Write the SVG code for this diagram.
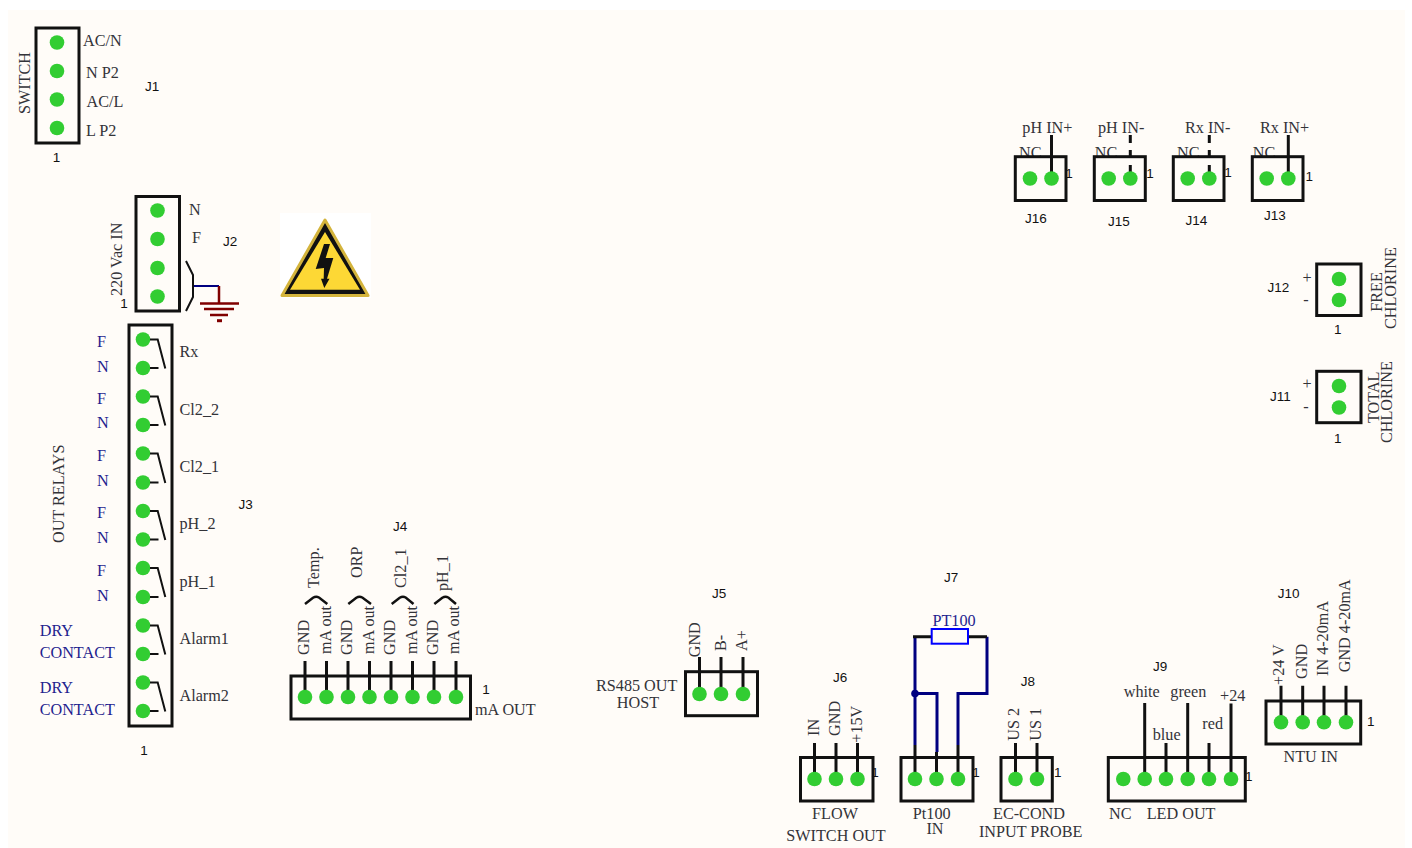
<svg xmlns="http://www.w3.org/2000/svg" width="1412" height="848" viewBox="0 0 1412 848">
<style>
text{font-family:"Liberation Serif","Times New Roman",serif;font-size:16.200px;fill:#333338}
.j{font-family:"Liberation Sans",Arial,sans-serif;font-size:13.500px;fill:#111}
.b{fill:#1f1f8f}
.m{text-anchor:middle}
.box{fill:none;stroke:#111;stroke-width:3}
.pin{fill:#32cd32}
.w{fill:none;stroke:#111;stroke-width:3}
.t{stroke-width:2}
.d{stroke-dasharray:8 7}
.n{fill:none;stroke:#000080;stroke-width:3}
</style>
<rect width="1412" height="848" fill="#fff"/>
<rect x="8" y="10" width="1397" height="838" fill="#fffcf8"/>

<g id="connectors">
<path class="n" d="M915 745V636.700M915 693.500H937V752M958 745V693.500H987V636.700"/>
<circle cx="915" cy="693.500" r="3.800" fill="#000080"/>
<path class="w" d="M913 636.700H932M968 636.700H987"/>
<path d="M193 286H219" fill="none" stroke="#000080" stroke-width="2"/>
<path d="M219 286V303.500M200 303.500H239M204 309H234M210 315H228" fill="none" stroke="#800000" stroke-width="2.500"/>
<path d="M217 320.700H222" fill="none" stroke="#800000" stroke-width="3"/>
<path class="w t" d="M186 261L193 275V297L186 311"/>
</g>

<g id="J1">
<rect class="box" x="36" y="28" width="43" height="115"/>
<circle class="pin" cx="57" cy="42.500" r="7.300"/><circle class="pin" cx="57" cy="71" r="7.300"/><circle class="pin" cx="57" cy="99.500" r="7.300"/><circle class="pin" cx="57" cy="128" r="7.300"/>
<text x="83" y="46">AC/N</text><text x="86" y="78">N P2</text><text x="86.500" y="107">AC/L</text><text x="86" y="136">L P2</text>
<text transform="translate(29.500 114) rotate(-90)">SWITCH</text>
<text class="j m" x="56.500" y="162">1</text><text class="j" x="145" y="91">J1</text>
</g>

<g id="J2">
<rect class="box" x="136" y="196.500" width="43.500" height="114.500"/>
<circle class="pin" cx="157.500" cy="210.500" r="7.300"/><circle class="pin" cx="157.500" cy="239" r="7.300"/><circle class="pin" cx="157.500" cy="268" r="7.300"/><circle class="pin" cx="157.500" cy="296.500" r="7.300"/>
<text x="189" y="214.500">N</text><text x="192" y="243">F</text>
<text transform="translate(122 296) rotate(-90)">220 Vac IN</text>
<text class="j m" x="124" y="308">1</text><text class="j" x="223" y="246">J2</text>
</g>

<g id="warning">
<rect x="280" y="213" width="91" height="85" fill="#fff"/>
<path d="M325 220L368 295.500H282Z" fill="#111" stroke="#d4b43c" stroke-width="3" stroke-linejoin="round"/>
<path d="M325 232L360 289.700H290Z" fill="#fdd835"/>
<path d="M324 244H330L325.700 258H333.300L327 278.700H329.500L324.300 288L321 278.700H323.700L324 268L315.700 269Z" fill="#111"/>
</g>

<g id="J3">
<rect class="box" x="129" y="325" width="43" height="401"/>
<g class="pin">
<circle cx="143" cy="339.500" r="7.300"/><circle cx="143" cy="368" r="7.300"/><circle cx="143" cy="396.500" r="7.300"/><circle cx="143" cy="425" r="7.300"/><circle cx="143" cy="453.500" r="7.300"/><circle cx="143" cy="482.500" r="7.300"/><circle cx="143" cy="511" r="7.300"/><circle cx="143" cy="539.500" r="7.300"/><circle cx="143" cy="568" r="7.300"/><circle cx="143" cy="597" r="7.300"/><circle cx="143" cy="625.500" r="7.300"/><circle cx="143" cy="654" r="7.300"/><circle cx="143" cy="682.500" r="7.300"/><circle cx="143" cy="711" r="7.300"/>
</g>
<path class="w t" d="M150 339.500H157.700L165.300 368.500M150 368H158.500M150 396.500H157.700L165.300 425.500M150 425H158.500M150 453.500H157.700L165.300 483M150 482.500H158.500M150 511H157.700L165.300 540M150 539.500H158.500M150 568H157.700L165.300 597M150 597H158.500M150 625.500H157.700L165.300 654.500M150 654H158.500M150 682.500H157.700L165.300 711.500M150 711H158.500"/>
<text x="179.500" y="357">Rx</text><text x="179.500" y="415">Cl2_2</text><text x="179.500" y="471.700">Cl2_1</text><text x="179.500" y="529">pH_2</text><text x="179.500" y="586.700">pH_1</text><text x="179.500" y="644">Alarm1</text><text x="179.500" y="701">Alarm2</text>
<text class="b" x="97" y="347">F</text><text class="b" x="97" y="371.700">N</text><text class="b" x="97" y="404">F</text><text class="b" x="97" y="428">N</text><text class="b" x="97" y="461">F</text><text class="b" x="97" y="485.700">N</text><text class="b" x="97" y="518">F</text><text class="b" x="97" y="543">N</text><text class="b" x="97" y="575.700">F</text><text class="b" x="97" y="600.700">N</text>
<text class="b" x="39.700" y="636">DRY</text><text class="b" x="39.700" y="657.700">CONTACT</text><text class="b" x="39.700" y="693.300">DRY</text><text class="b" x="39.700" y="715">CONTACT</text>
<text transform="translate(64.300 543) rotate(-90)">OUT RELAYS</text>
<text class="j" x="238.500" y="509">J3</text><text class="j m" x="144" y="755">1</text>
</g>

<g id="J4">
<rect class="box" x="291" y="676" width="179.500" height="43"/>
<path class="w" d="M305 661V697M326.500 661V697M348 661V697M369.500 661V697M391 661V697M412.500 661V697M434 661V697M456 661V697"/>
<g class="pin"><circle cx="305" cy="697" r="7.300"/><circle cx="326.500" cy="697" r="7.300"/><circle cx="348" cy="697" r="7.300"/><circle cx="369.500" cy="697" r="7.300"/><circle cx="391" cy="697" r="7.300"/><circle cx="412.500" cy="697" r="7.300"/><circle cx="434" cy="697" r="7.300"/><circle cx="456" cy="697" r="7.300"/></g>
<path class="w" stroke-width="2.500" style="stroke-width:2.500" d="M305 604L313 597.800Q316 596 319 597.500L327.300 604M348.300 604L356.300 597.800Q359.300 596 362.300 597.500L371 604M391.700 604L399.700 597.800Q402.700 596 405.700 597.500L413.500 604M434.300 604L442.300 597.800Q445.300 596 448.300 597.500L456 604"/>
<text transform="translate(309.300 655) rotate(-90)">GND</text><text transform="translate(352.300 655) rotate(-90)">GND</text><text transform="translate(395 655) rotate(-90)">GND</text><text transform="translate(438.300 655) rotate(-90)">GND</text>
<text transform="translate(330.700 654) rotate(-90)">mA out</text><text transform="translate(374 654) rotate(-90)">mA out</text><text transform="translate(416.700 654) rotate(-90)">mA out</text><text transform="translate(459.300 654) rotate(-90)">mA out</text>
<text transform="translate(319.300 588) rotate(-90)">Temp.</text><text transform="translate(362.300 578) rotate(-90)">ORP</text><text transform="translate(406 588) rotate(-90)">Cl2_1</text><text transform="translate(448 591) rotate(-90)">pH_1</text>
<text class="j" x="393" y="530.700">J4</text><text class="j m" x="486" y="694">1</text><text x="475" y="715">mA OUT</text>
</g>

<g id="J5">
<rect class="box" x="685.500" y="671.700" width="72" height="44"/>
<path class="w" d="M699.500 657V694M721 657V694M743 657V694"/>
<circle class="pin" cx="699.500" cy="694" r="7.300"/><circle class="pin" cx="721" cy="694" r="7.300"/><circle class="pin" cx="743" cy="694" r="7.300"/>
<text transform="translate(700 657.300) rotate(-90)">GND</text><text transform="translate(726 651) rotate(-90)">B-</text><text transform="translate(746.700 651) rotate(-90)">A+</text>
<text class="j" x="712" y="598">J5</text><text class="m" x="636.700" y="690.700">RS485 OUT</text><text class="m" x="638" y="708">HOST</text>
</g>

<g id="J6">
<rect class="box" x="800.500" y="757.500" width="72.500" height="43.500"/>
<path class="w" d="M814.500 743V779M836 743V779M857.500 743V779"/>
<circle class="pin" cx="814.500" cy="779" r="7.300"/><circle class="pin" cx="836" cy="779" r="7.300"/><circle class="pin" cx="857.500" cy="779" r="7.300"/>
<text transform="translate(819 736) rotate(-90)">IN</text><text transform="translate(840 736) rotate(-90)">GND</text><text transform="translate(861.700 742.700) rotate(-90)">+15V</text>
<text class="j" x="833" y="682">J6</text><text class="j m" x="875" y="777">1</text><text class="m" x="835" y="819">FLOW</text><text class="m" x="836" y="840.700">SWITCH OUT</text>
</g>

<g id="J7">
<rect class="box" x="901" y="757.500" width="72" height="43.500"/>
<path class="w" d="M915 745V779M936.500 752V779M958 745V779"/>
<circle class="pin" cx="915" cy="779" r="7.300"/><circle class="pin" cx="936.500" cy="779" r="7.300"/><circle class="pin" cx="958" cy="779" r="7.300"/>
<rect x="931.700" y="629" width="36.300" height="14.700" fill="#fffcf8" stroke="#0000ff" stroke-width="2"/>
<text class="j" x="944" y="581.700">J7</text><text class="m b" x="954" y="625.700">PT100</text><text class="j m" x="976" y="777">1</text><text class="m" x="931.700" y="819">Pt100</text><text class="m" x="935" y="834">IN</text>
</g>

<g id="J8">
<rect class="box" x="1001" y="757.500" width="51.300" height="43.500"/>
<path class="w" d="M1015.500 743V779M1037 743V779"/>
<circle class="pin" cx="1015.500" cy="779" r="7.300"/><circle class="pin" cx="1037" cy="779" r="7.300"/>
<text transform="translate(1019.300 740.700) rotate(-90)">US 2</text><text transform="translate(1041 740.700) rotate(-90)">US 1</text>
<text class="j" x="1020.700" y="685.700">J8</text><text class="j m" x="1057.700" y="777">1</text><text class="m" x="1029" y="819">EC-COND</text><text class="m" x="1030.700" y="837">INPUT PROBE</text>
</g>

<g id="J9">
<rect class="box" x="1108.300" y="757.500" width="137" height="43.500"/>
<path class="w" d="M1144.700 703V779M1166 743V779M1187.700 703V779M1209 743V779M1231 703.500V779"/>
<circle class="pin" cx="1123.300" cy="779" r="7.300"/><circle class="pin" cx="1144.700" cy="779" r="7.300"/><circle class="pin" cx="1166" cy="779" r="7.300"/><circle class="pin" cx="1187.700" cy="779" r="7.300"/><circle class="pin" cx="1209" cy="779" r="7.300"/><circle class="pin" cx="1231" cy="779" r="7.300"/>
<text class="m" x="1141.700" y="697.300">white</text><text class="m" x="1188.300" y="697.300">green</text><text class="m" x="1166.700" y="740">blue</text><text class="m" x="1212.700" y="729.300">red</text><text class="m" x="1232.700" y="701">+24</text>
<text class="j" x="1153" y="671">J9</text><text class="j m" x="1248.700" y="781">1</text><text x="1109" y="819">NC</text><text x="1146.700" y="819">LED OUT</text>
</g>

<g id="J10">
<rect class="box" x="1266" y="701" width="94.700" height="43"/>
<path class="w" d="M1281 685.700V722.300M1302.700 685.700V722.300M1324 685.700V722.300M1346 685.700V722.300"/>
<circle class="pin" cx="1281" cy="722.300" r="7.300"/><circle class="pin" cx="1302.700" cy="722.300" r="7.300"/><circle class="pin" cx="1324" cy="722.300" r="7.300"/><circle class="pin" cx="1346" cy="722.300" r="7.300"/>
<text transform="translate(1284.300 685) rotate(-90)">+24 V</text><text transform="translate(1307.300 679) rotate(-90)">GND</text><text transform="translate(1328.300 676) rotate(-90)">IN 4-20mA</text><text transform="translate(1350 672.300) rotate(-90)">GND 4-20mA</text>
<text class="j" x="1277.700" y="597.700">J10</text><text class="j m" x="1370.700" y="726">1</text><text class="m" x="1310.700" y="761.700">NTU IN</text>
</g>

<g id="J11">
<rect class="box" x="1316.700" y="371.300" width="44.300" height="51.400"/>
<circle class="pin" cx="1339" cy="386" r="7.300"/><circle class="pin" cx="1339" cy="407.500" r="7.300"/>
<text class="j" x="1270" y="401">J11</text><text class="m" x="1307" y="389">+</text><text class="m" x="1306" y="412">-</text><text class="j m" x="1337.700" y="442.700">1</text>
<text transform="translate(1379 423) rotate(-90)">TOTAL</text><text transform="translate(1392.300 443) rotate(-90)">CHLORINE</text>
</g>

<g id="J12">
<rect class="box" x="1316.700" y="264" width="44.300" height="51.500"/>
<circle class="pin" cx="1339" cy="279" r="7.300"/><circle class="pin" cx="1339" cy="300" r="7.300"/>
<text class="j" x="1267.500" y="291.700">J12</text><text class="m" x="1307" y="282.700">+</text><text class="m" x="1306" y="305">-</text><text class="j m" x="1337.700" y="334">1</text>
<text transform="translate(1381.700 311.700) rotate(-90)">FREE</text><text transform="translate(1396 329) rotate(-90)">CHLORINE</text>
</g>

<g id="J13">
<text x="1252.700" y="157.500">NC</text><text x="1260" y="133.300">Rx IN+</text>
<rect class="box" x="1252.300" y="156.700" width="50.700" height="43.800"/>
<path class="w" d="M1288.300 135V178.500"/>
<circle class="pin" cx="1266.700" cy="178.500" r="7.300"/><circle class="pin" cx="1288.300" cy="178.500" r="7.300"/>
<text class="j m" x="1309.300" y="181">1</text><text class="j" x="1264" y="220">J13</text>
</g>

<g id="J14">
<text x="1177" y="157.500">NC</text><text x="1185" y="133.300">Rx IN-</text>
<rect class="box" x="1173.300" y="156.700" width="50.700" height="43.800"/>
<path class="w d" d="M1209.300 135V178.500"/>
<circle class="pin" cx="1187.700" cy="178.500" r="7.300"/><circle class="pin" cx="1209.300" cy="178.500" r="7.300"/>
<text class="j m" x="1228" y="177">1</text><text class="j" x="1185.500" y="225">J14</text>
</g>

<g id="J15">
<text x="1094.700" y="157.500">NC</text><text x="1098" y="133.300">pH IN-</text>
<rect class="box" x="1094.300" y="156.700" width="51" height="43.800"/>
<path class="w d" d="M1130.300 135V178.500"/>
<circle class="pin" cx="1108.700" cy="178.500" r="7.300"/><circle class="pin" cx="1130.300" cy="178.500" r="7.300"/>
<text class="j m" x="1150" y="178">1</text><text class="j" x="1108" y="225.700">J15</text>
</g>

<g id="J16">
<text x="1019" y="157.500">NC</text><text x="1022.300" y="133.300">pH IN+</text>
<rect class="box" x="1015.300" y="156.700" width="50.700" height="43.800"/>
<path class="w" d="M1051.500 135V178.500"/>
<circle class="pin" cx="1030" cy="178.500" r="7.300"/><circle class="pin" cx="1051.500" cy="178.500" r="7.300"/>
<text class="j m" x="1069" y="177.700">1</text><text class="j" x="1025" y="223.300">J16</text>
</g>
</svg>
